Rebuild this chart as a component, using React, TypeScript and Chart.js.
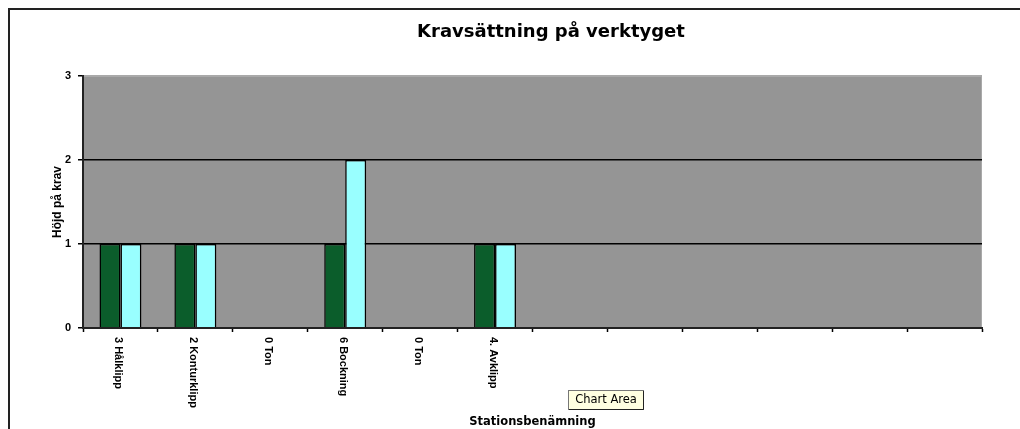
import { useEffect, useRef } from 'react';
import { Chart, registerables } from 'chart.js';

Chart.register(...registerables);

const chartTitle = 'Kravsättning på verktyget';
const xAxisTitle = 'Stationsbenämning';
const yAxisTitle = 'Höjd på krav';
const hoverNote = 'Chart Area';

const categories = [
  '3 Hålklipp',
  '2 Konturklipp',
  '0 Ton',
  '6 Bockning',
  '0 Ton',
  '4. Avklipp',
  '',
  '',
  '',
  '',
  '',
  '',
];
const seriesNames = ['Serie1', 'Serie2'];
const series1 = [1, 1, 0, 1, 0, 1, null, null, null, null, null, null];
const series2 = [1, 1, 0, 2, 0, 1, null, null, null, null, null, null];
const yMin = 0;
const yMax = 3;
const yStep = 1;

const PLOT_BG = '#959595';
const PLOT_EDGE = '#a9a9a9';
const GREEN = '#0b5d2b';
const CYAN = '#99ffff';
const TITLE_X = 541;
const TITLE_BASELINE = 27;

const excelLook = {
  id: 'excelLook',
  beforeDraw(chart: any) {
    const { ctx, chartArea: a } = chart;
    ctx.save();
    ctx.fillStyle = PLOT_BG;
    ctx.fillRect(a.left, a.top, a.right - a.left, a.bottom - a.top);
    ctx.strokeStyle = PLOT_EDGE;
    ctx.lineWidth = 1;
    ctx.strokeRect(a.left + 0.5, a.top + 0.5, a.right - a.left - 1, a.bottom - a.top - 1);
    ctx.restore();
  },
  afterDraw(chart: any) {
    const { ctx, chartArea: a, scales } = chart;
    const xs = scales.x;
    ctx.save();
    // chart title
    ctx.fillStyle = '#000';
    ctx.font = 'bold 18px "DejaVu Sans"';
    ctx.textAlign = 'center';
    ctx.textBaseline = 'alphabetic';
    ctx.fillText(chartTitle, TITLE_X, TITLE_BASELINE);

    // category labels, rotated to read top-to-bottom
    ctx.font = 'bold 11px "Liberation Sans"';
    ctx.textAlign = 'left';
    ctx.textBaseline = 'middle';
    (chart.data.labels as string[]).forEach((lab, i) => {
      if (!lab) return;
      const px = xs.getPixelForTick(i);
      ctx.save();
      ctx.translate(px - 2, a.bottom + 9);
      ctx.rotate(Math.PI / 2);
      ctx.fillText(lab, 0, 0);
      ctx.restore();
    });

    // Excel hover note
    const bx = 558;
    const by = 380;
    const bw = 76;
    const bh = 20;
    ctx.fillStyle = '#ffffe1';
    ctx.fillRect(bx, by, bw, bh);
    ctx.strokeStyle = '#777';
    ctx.lineWidth = 1;
    ctx.strokeRect(bx + 0.5, by + 0.5, bw - 1, bh - 1);
    ctx.strokeStyle = '#222';
    ctx.beginPath();
    ctx.moveTo(bx + bw - 0.5, by + 1);
    ctx.lineTo(bx + bw - 0.5, by + bh - 0.5);
    ctx.lineTo(bx + 1, by + bh - 0.5);
    ctx.stroke();
    ctx.fillStyle = '#000';
    ctx.font = '11.5px "DejaVu Sans"';
    ctx.textAlign = 'center';
    ctx.textBaseline = 'middle';
    ctx.fillText(hoverNote, bx + bw / 2, by + bh / 2 + 0.5);
    ctx.restore();
  },
};

export default function App() {
  const ref = useRef<HTMLCanvasElement | null>(null);

  useEffect(() => {
    if (!ref.current) return;
    const chart = new Chart(ref.current, {
      type: 'bar',
      data: {
        labels: categories,
        datasets: [
          {
            label: seriesNames[0],
            data: series1,
            backgroundColor: GREEN,
            borderColor: '#000',
            borderWidth: 1.5,
          },
          {
            label: seriesNames[1],
            data: series2,
            backgroundColor: CYAN,
            borderColor: '#000',
            borderWidth: 1.5,
          },
        ],
      },
      options: {
        responsive: false,
        animation: false,
        layout: { padding: { top: 66, right: 38, left: 0, bottom: 0 } },
        datasets: { bar: { categoryPercentage: 0.56, barPercentage: 1 } },
        plugins: {
          legend: { display: false },
          title: { display: false },
          tooltip: { enabled: false },
        },
        scales: {
          x: {
            grid: {
              display: true,
              drawOnChartArea: false,
              drawTicks: true,
              tickLength: 4,
              tickColor: '#000',
              tickWidth: 1.5,
              offset: true,
            },
            border: { display: true, color: '#222', width: 2, z: 1 },
            ticks: { display: false },
            title: {
              display: true,
              text: xAxisTitle,
              color: '#000',
              font: { family: 'DejaVu Sans', size: 11.5, weight: 'bold' },
              padding: { top: 0, bottom: 0 },
            },
            afterFit: (s: any) => {
              s.height = 101;
            },
          },
          y: {
            min: yMin,
            max: yMax,
            ticks: {
              stepSize: yStep,
              padding: 7,
              color: '#000',
              font: { family: 'Liberation Sans', size: 11, weight: 'bold' },
            },
            grid: {
              color: (c: any) => (c.tick && c.tick.value === yMax ? PLOT_EDGE : '#000'),
              lineWidth: 1.5,
              drawTicks: true,
              tickLength: 5,
              tickColor: '#000',
              tickWidth: 1.5,
            },
            border: { display: true, color: '#222', width: 2, z: 1 },
            title: {
              display: true,
              text: yAxisTitle,
              color: '#000',
              font: { family: 'Liberation Sans', size: 12, weight: 'bold' },
              padding: { top: 40, bottom: 0 },
            },
            afterFit: (s: any) => {
              s.width = 73;
            },
          },
        },
      },
      plugins: [excelLook],
    });
    return () => chart.destroy();
  }, []);

  return (
    <div
      style={{
        position: 'absolute',
        left: 8,
        top: 8,
        width: 1012,
        height: 421,
        boxSizing: 'border-box',
        borderTop: '2px solid #222',
        borderLeft: '2px solid #222',
        overflow: 'hidden',
        background: '#fff',
      }}
    >
      <canvas ref={ref} width={1010} height={419} style={{ display: 'block' }} />
    </div>
  );
}
